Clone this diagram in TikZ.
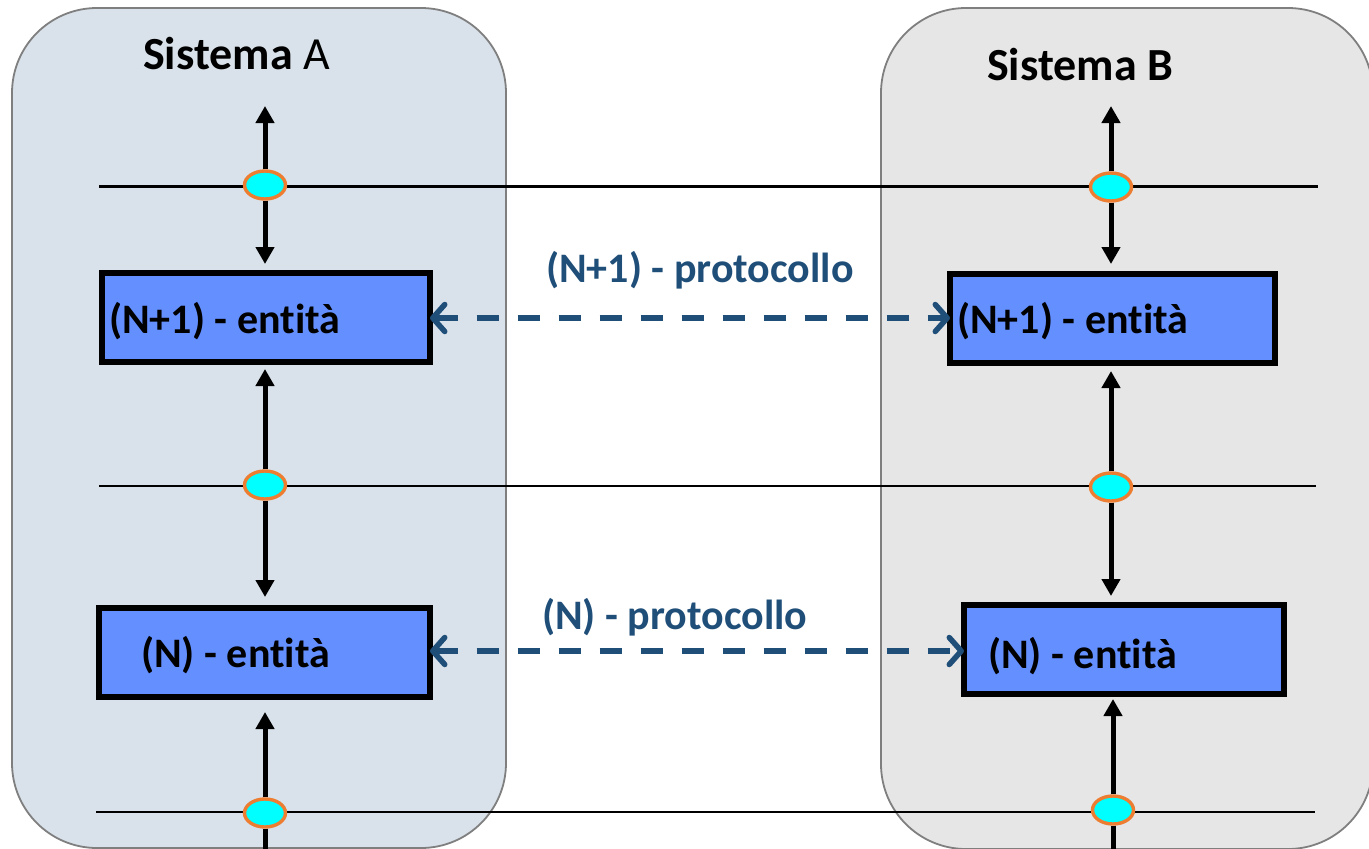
\documentclass[tikz,border=0pt]{standalone}
\usepackage{fontspec}
\setmainfont{Carlito}[Ligatures=NoCommon]
\usetikzlibrary{arrows.meta,shapes.geometric}
\definecolor{panelA}{HTML}{D9E2EA}
\definecolor{panelB}{HTML}{E6E6E6}
\definecolor{panelEdge}{HTML}{7F7F7F}
\definecolor{boxFill}{HTML}{648FFF}
\definecolor{protoCol}{HTML}{1F4E79}
\definecolor{sapFill}{HTML}{00FFFF}
\definecolor{sapEdge}{HTML}{ED7D31}
\tikzset{
  panel/.style={draw=panelEdge, line width=1.8pt, rounded corners=85pt},
  layerline/.style={draw=black, line width=2.8pt},
  entbox/.style={draw=black, fill=boxFill, line width=6pt, rectangle, inner sep=0pt},
  sap/.style={ellipse, draw=sapEdge, fill=sapFill, line width=3.4pt, minimum width=41pt, minimum height=28pt, inner sep=0pt},
  varrow/.style={draw=black, line width=5pt, -{Triangle[length=17pt,width=18pt]}},
  darrow/.style={draw=protoCol, line width=5.5pt, dash pattern=on 22pt off 19pt,
    {Straight Barb[length=12pt,width=27pt,round]}-{Straight Barb[length=12pt,width=27pt,round]}},
  boxtext/.style={inner sep=0pt, anchor=base west, font=\fontsize{42}{50}\selectfont\bfseries},
  titletext/.style={inner sep=0pt, anchor=base west, font=\fontsize{46}{54}\selectfont},
  prototext/.style={inner sep=0pt, anchor=base west, text=protoCol, font=\fontsize{42}{50}\selectfont\bfseries}
}
\begin{document}
\begin{tikzpicture}[x=1pt,y=-1pt]
\useasboundingbox (0,0) rectangle (1369,849);
% panels
\draw[panel, fill=panelA] (12,8) rectangle (506,848);
\draw[panel, fill=panelB] (881,8) rectangle (1373,849);
% layer boundaries
\coordinate (L1) at (99,186.5);  \coordinate (R1) at (1318,186.5);
\coordinate (L2) at (99,486);    \coordinate (R2) at (1316,486);
\coordinate (L3) at (96,812);    \coordinate (R3) at (1315,812);
\draw[layerline] (L1) -- (R1);
\draw[layerline] (L2) -- (R2);
\draw[layerline] (L3) -- (R3);
% entity boxes
\node[entbox, minimum width=328pt, minimum height=89pt] (A1) at (266,317.5) {};
\node[entbox, minimum width=325pt, minimum height=89pt] (B1) at (1112.5,318.5) {};
\node[entbox, minimum width=331pt, minimum height=89pt] (A2) at (264.5,652.5) {};
\node[entbox, minimum width=320pt, minimum height=89pt] (B2) at (1124,649.5) {};
% service access points
\node[sap] (eA1) at (265,185) {};
\node[sap] (eB1) at (1111,187) {};
\node[sap] (eA2) at (265,485) {};
\node[sap] (eB2) at (1111,487) {};
\node[sap] (eA3) at (265,813) {};
\node[sap] (eB3) at (1113,810) {};
% free ends
\coordinate (topA) at (265,106);
\coordinate (topB) at (1111,106);
\coordinate (botA) at (265,852);
\coordinate (botB) at (1113,852);
% vertical arrows, system A
\draw[varrow] (eA1.north) -- (topA);
\draw[varrow, shorten >=6pt] (eA1.south) -- (eA1.south |- A1.north);
\draw[varrow, shorten >=4pt] (eA2.north) -- (eA2.north |- A1.south);
\draw[varrow, shorten >=8pt] (eA2.south) -- (eA2.south |- A2.north);
\draw[varrow, shorten >=12pt] (eA3.north) -- (eA3.north |- A2.south);
\draw[line width=5pt] (eA3.south) -- (botA);
% vertical arrows, system B
\draw[varrow] (eB1.north) -- (topB);
\draw[varrow, shorten >=7pt] (eB1.south) -- (eB1.south |- B1.north);
\draw[varrow, shorten >=5pt] (eB2.north) -- (eB2.north |- B1.south);
\draw[varrow, shorten >=6pt] (eB2.south) -- (eB2.south |- B2.north);
\draw[varrow, shorten >=2pt] (eB3.north) -- (eB3.north |- B2.south);
\draw[line width=5pt] (eB3.south) -- (botB);
% peer protocols
\coordinate (d1) at (0,318);
\coordinate (d2) at (0,651);
\draw[darrow, shorten <=-3pt, shorten >=-3pt] (A1.east |- d1) -- (B1.west |- d1);
\draw[darrow, shorten <=-3pt, shorten >=-3pt] (A2.east |- d2) -- (B2.west |- d2);
% texts
\node[titletext] (tA) at (143,69) {\textbf{Sistema} A};
\node[titletext] (tB) at (987,80) {\textbf{Sistema B}};
\node[boxtext] (xA1) at (109,333) {(N+1) - entità};
\node[boxtext] (xB1) at (957,333) {(N+1) - entità};
\node[boxtext] (xA2) at (141,667) {(N) - entità};
\node[boxtext] (xB2) at (988,668) {(N) - entità};
\node[prototext] (p1) at (546,282) {(N+1) - protocollo};
\node[prototext] (p2) at (542,629) {(N) - protocollo};
\end{tikzpicture}
\end{document}
